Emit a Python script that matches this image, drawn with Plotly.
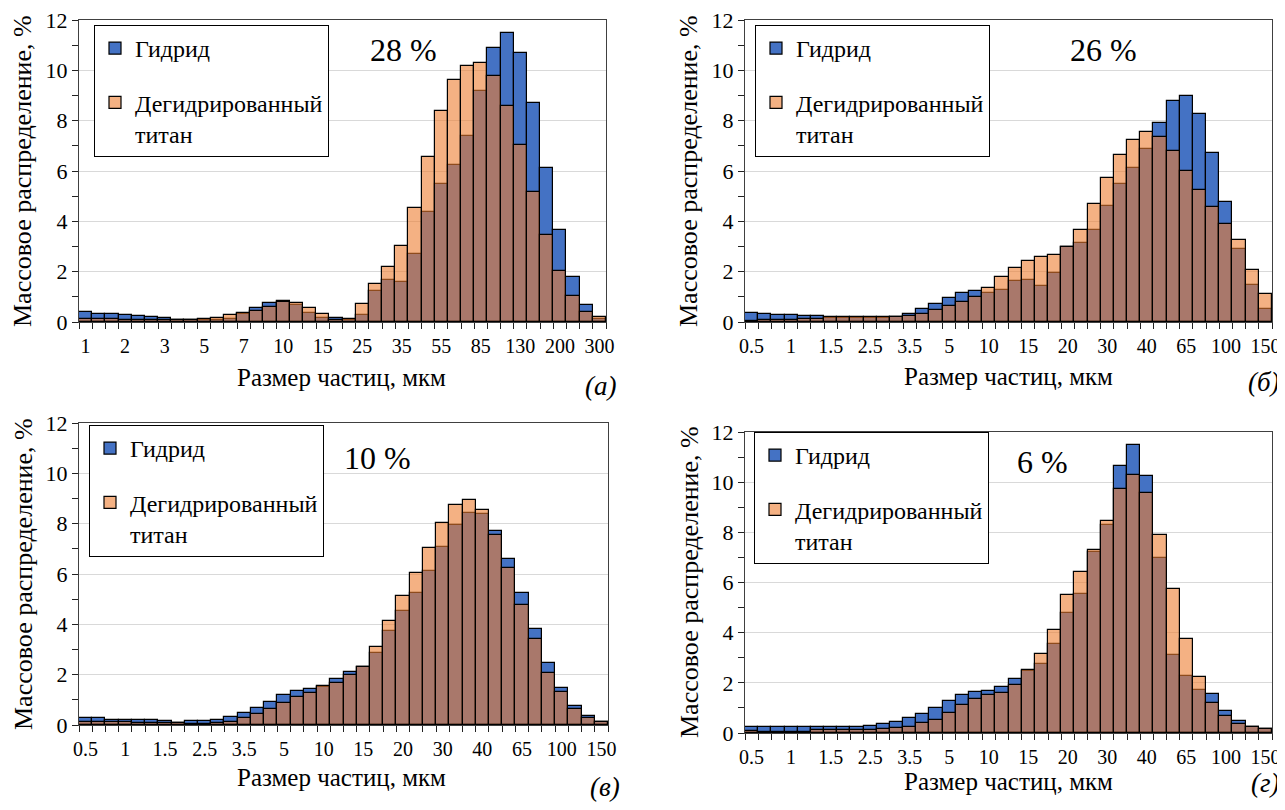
import plotly.graph_objects as go

# ---------------- data ----------------
# particle size classes (um); only every third label is shown on the axis
sizes_a = ["1", "1.25", "1.6", "2", "2.3", "2.6", "3", "3.6", "4.2", "5",
           "5.6", "6.3", "7", "8", "9", "10", "11.5", "13", "15", "18",
           "21", "25", "28", "31", "35", "41", "48", "55", "64", "74",
           "85", "100", "115", "130", "150", "175", "200", "230", "260", "300"]
sizes_bcd = ["0.5", "0.63", "0.8", "1", "1.13", "1.3", "1.5", "1.8", "2.2", "2.5",
             "2.8", "3.2", "3.5", "4", "4.5", "5", "6.3", "8", "10", "11.5",
             "13", "15", "16.5", "18", "20", "23", "26", "30", "33", "36",
             "40", "48", "56", "65", "76", "88", "100", "115", "130", "150"]

# (a) 28 %
hydride_a = [0.40, 0.33, 0.33, 0.29, 0.24, 0.19, 0.15, 0.08, 0.08, 0.08,
             0.07, 0.12, 0.33, 0.56, 0.77, 0.82, 0.68, 0.36, 0.16, 0.17,
             0.09, 0.27, 1.23, 1.68, 1.58, 2.69, 4.38, 5.50, 6.23, 7.39,
             9.18, 10.87, 11.50, 10.70, 8.69, 6.10, 3.67, 1.79, 0.66, 0.13]
dehydr_a = [0.13, 0.13, 0.13, 0.09, 0.07, 0.07, 0.09, 0.09, 0.09, 0.11,
            0.16, 0.27, 0.36, 0.45, 0.60, 0.79, 0.77, 0.57, 0.32, 0.09,
            0.13, 0.70, 1.53, 2.19, 3.01, 4.54, 6.56, 8.40, 9.62, 10.17,
            10.30, 9.77, 8.58, 7.02, 5.17, 3.45, 2.03, 1.02, 0.40, 0.20]

# (б) 26 %
hydride_b = [0.36, 0.33, 0.29, 0.29, 0.24, 0.24, 0.17, 0.17, 0.17, 0.17,
             0.17, 0.18, 0.31, 0.50, 0.71, 0.96, 1.16, 1.22, 1.15, 1.29,
             1.62, 1.66, 1.42, 1.96, 2.98, 3.14, 3.65, 4.62, 5.48, 6.10,
             6.86, 7.89, 8.79, 8.99, 8.28, 6.70, 4.77, 2.92, 1.46, 0.53]
dehydr_b = [0.03, 0.07, 0.07, 0.07, 0.11, 0.11, 0.19, 0.19, 0.19, 0.19,
            0.19, 0.20, 0.25, 0.31, 0.47, 0.62, 0.80, 0.99, 1.37, 1.79,
            2.15, 2.43, 2.59, 2.68, 2.99, 3.65, 4.68, 5.74, 6.62, 7.25,
            7.56, 7.36, 6.80, 5.99, 5.24, 4.58, 3.91, 3.25, 2.08, 1.10]

# (в) 10 %
hydride_c = [0.26, 0.26, 0.21, 0.21, 0.21, 0.21, 0.17, 0.06, 0.17, 0.17,
             0.21, 0.33, 0.48, 0.68, 0.93, 1.19, 1.34, 1.45, 1.53, 1.81,
             2.11, 2.30, 2.85, 3.75, 4.54, 5.24, 6.10, 7.07, 7.93, 8.42,
             8.40, 7.72, 6.60, 5.24, 3.81, 2.48, 1.49, 0.76, 0.36, 0.10]
dehydr_c = [0.11, 0.11, 0.11, 0.11, 0.08, 0.08, 0.08, 0.08, 0.04, 0.04,
            0.08, 0.11, 0.26, 0.42, 0.62, 0.87, 1.13, 1.27, 1.55, 1.68,
            1.98, 2.32, 3.09, 4.15, 5.13, 6.03, 7.03, 8.02, 8.75, 8.95,
            8.55, 7.56, 6.23, 4.75, 3.41, 2.06, 1.30, 0.64, 0.29, 0.13]

# (г) 6 %
hydride_d = [0.24, 0.24, 0.24, 0.24, 0.24, 0.24, 0.24, 0.24, 0.24, 0.29,
             0.36, 0.45, 0.60, 0.76, 1.00, 1.27, 1.53, 1.62, 1.67, 1.83,
             2.15, 2.48, 2.74, 3.56, 4.79, 5.55, 7.21, 8.31, 10.66, 11.47,
             10.25, 6.99, 3.09, 2.26, 1.70, 1.57, 0.86, 0.46, 0.23, 0.14]
dehydr_d = [0.07, 0.04, 0.04, 0.04, 0.04, 0.11, 0.11, 0.11, 0.11, 0.13,
            0.17, 0.21, 0.24, 0.40, 0.53, 0.80, 1.12, 1.37, 1.52, 1.61,
            1.93, 2.52, 3.16, 4.12, 5.51, 6.41, 7.28, 8.47, 9.73, 10.27,
            9.56, 7.89, 5.75, 3.76, 2.23, 1.21, 0.66, 0.37, 0.24, 0.15]

series_names = ["Гидрид", "Дегидрированный<br>титан"]
percent_labels = ["28 %", "26 %", "10 %", "6 %"]
panel_letters = ["(а)", "(б)", "(в)", "(г)"]
x_title = "Размер частиц, мкм"
y_title = "Массовое распределение, %"

panels = [
    (sizes_a, hydride_a, dehydr_a),
    (sizes_bcd, hydride_b, dehydr_b),
    (sizes_bcd, hydride_c, dehydr_c),
    (sizes_bcd, hydride_d, dehydr_d),
]

# ---------------- style / layout ----------------
PAGE_OFF = 8                      # default body margin of the html page
W, H = 1285 - PAGE_OFF, 810 - PAGE_OFF
FONT = "Liberation Serif"
BLUE = "#4472C4"
ORANGE = "rgba(237,125,49,0.6)"
FRAME = "#404040"


def fx(px):
    return (px - PAGE_OFF) / W


def fy(py):
    return 1 - (py - PAGE_OFF) / H


# plot areas in screen pixels: left, right, top, bottom
boxes = [(79, 606, 20, 322), (745, 1272, 20, 322),
         (79, 608, 423, 725), (745, 1272, 432, 733)]
legend_pos = [(94, 25), (755, 25), (89, 425), (754, 432)]
ytitle_pos = [(23, 171), (689, 171), (23, 574), (689, 582)]
xtitle_pos = [(341, 377), (1008, 376), (341, 777), (1008, 781)]
pct_pos = [(403, 50), (1103, 50), (377, 458), (1042, 462)]
letter_pos = [(600, 386), (1264, 382), (605, 787), (1265, 783)]

fig = go.Figure()
layout = dict(template="none", width=W, height=H,
              margin=dict(l=0, r=0, t=0, b=0, pad=0, autoexpand=False),
              paper_bgcolor="white", plot_bgcolor="white",
              barmode="overlay", bargap=0,
              font=dict(family=FONT, color="black", size=20))
annotations = []

for i, (cats, hyd, deh) in enumerate(panels):
    n = i + 1
    sfx = "" if n == 1 else str(n)
    xa, ya, leg = "x" + sfx, "y" + sfx, "legend" + sfx
    pos = list(range(len(cats)))
    fig.add_trace(go.Bar(x=pos, y=hyd, name=series_names[0],
                         marker=dict(color=BLUE, line=dict(color="black", width=1.2)),
                         xaxis=xa, yaxis=ya, legend=leg, legendgroup=f"h{n}"))
    fig.add_trace(go.Bar(x=pos, y=deh, name=series_names[1],
                         marker=dict(color=ORANGE, line=dict(color="black", width=1.2)),
                         xaxis=xa, yaxis=ya, legend=leg, legendgroup=f"d{n}"))
    l, r, t, b = boxes[i]
    layout["xaxis" + sfx] = dict(
        domain=[fx(l), fx(r)], anchor=ya, range=[-0.5, len(cats) - 0.5],
        automargin=False, ticklabeloverflow="allow",
        tickmode="array", tickvals=pos[::3], ticktext=cats[::3],
        ticks="outside", ticklen=6, tickcolor="rgba(0,0,0,0)",
        minor=dict(ticks="outside", tickmode="linear", tick0=-0.5, dtick=1,
                   ticklen=6, tickcolor="#222222", tickwidth=1, showgrid=False),
        showline=True, linecolor=FRAME, linewidth=1.3, mirror=True,
        showgrid=False, zeroline=False,
        tickfont=dict(family=FONT, size=20, color="black"))
    layout["yaxis" + sfx] = dict(
        domain=[fy(b), fy(t)], anchor=xa, range=[0, 12],
        automargin=False, ticklabeloverflow="allow",
        tickmode="linear", tick0=0, dtick=2,
        ticks="outside", ticklen=6, tickcolor="#222222",
        minor=dict(ticks="outside", dtick=1, ticklen=6, tickcolor="#222222",
                   showgrid=False),
        showgrid=True, gridcolor="#d9d9d9", gridwidth=1,
        showline=True, linecolor=FRAME, linewidth=1.3, mirror=True,
        zeroline=False, tickfont=dict(family=FONT, size=22, color="black"))
    lx, ly = legend_pos[i]
    layout[leg] = dict(x=fx(lx), y=fy(ly), xanchor="left", yanchor="top",
                       bordercolor="black", borderwidth=1, bgcolor="white",
                       font=dict(family=FONT, size=24, color="black"),
                       traceorder="grouped", tracegroupgap=20, valign="top")
    annotations.append(dict(text=y_title, x=fx(ytitle_pos[i][0]), y=fy(ytitle_pos[i][1]),
                            xref="paper", yref="paper", showarrow=False, textangle=-90,
                            xanchor="center", yanchor="middle",
                            font=dict(family=FONT, size=26, color="black")))
    annotations.append(dict(text=x_title, x=fx(xtitle_pos[i][0]), y=fy(xtitle_pos[i][1]),
                            xref="paper", yref="paper", showarrow=False,
                            xanchor="center", yanchor="middle",
                            font=dict(family=FONT, size=25, color="black")))
    annotations.append(dict(text=percent_labels[i], x=fx(pct_pos[i][0]), y=fy(pct_pos[i][1]),
                            xref="paper", yref="paper", showarrow=False,
                            xanchor="center", yanchor="middle",
                            font=dict(family=FONT, size=32, color="black")))
    annotations.append(dict(text="<i>" + panel_letters[i] + "</i>", x=fx(letter_pos[i][0]),
                            y=fy(letter_pos[i][1]), xref="paper", yref="paper",
                            showarrow=False, xanchor="center", yanchor="middle",
                            font=dict(family=FONT, size=27, color="black")))

layout["annotations"] = annotations
fig.update_layout(**layout)
fig.write_html("out.html")
